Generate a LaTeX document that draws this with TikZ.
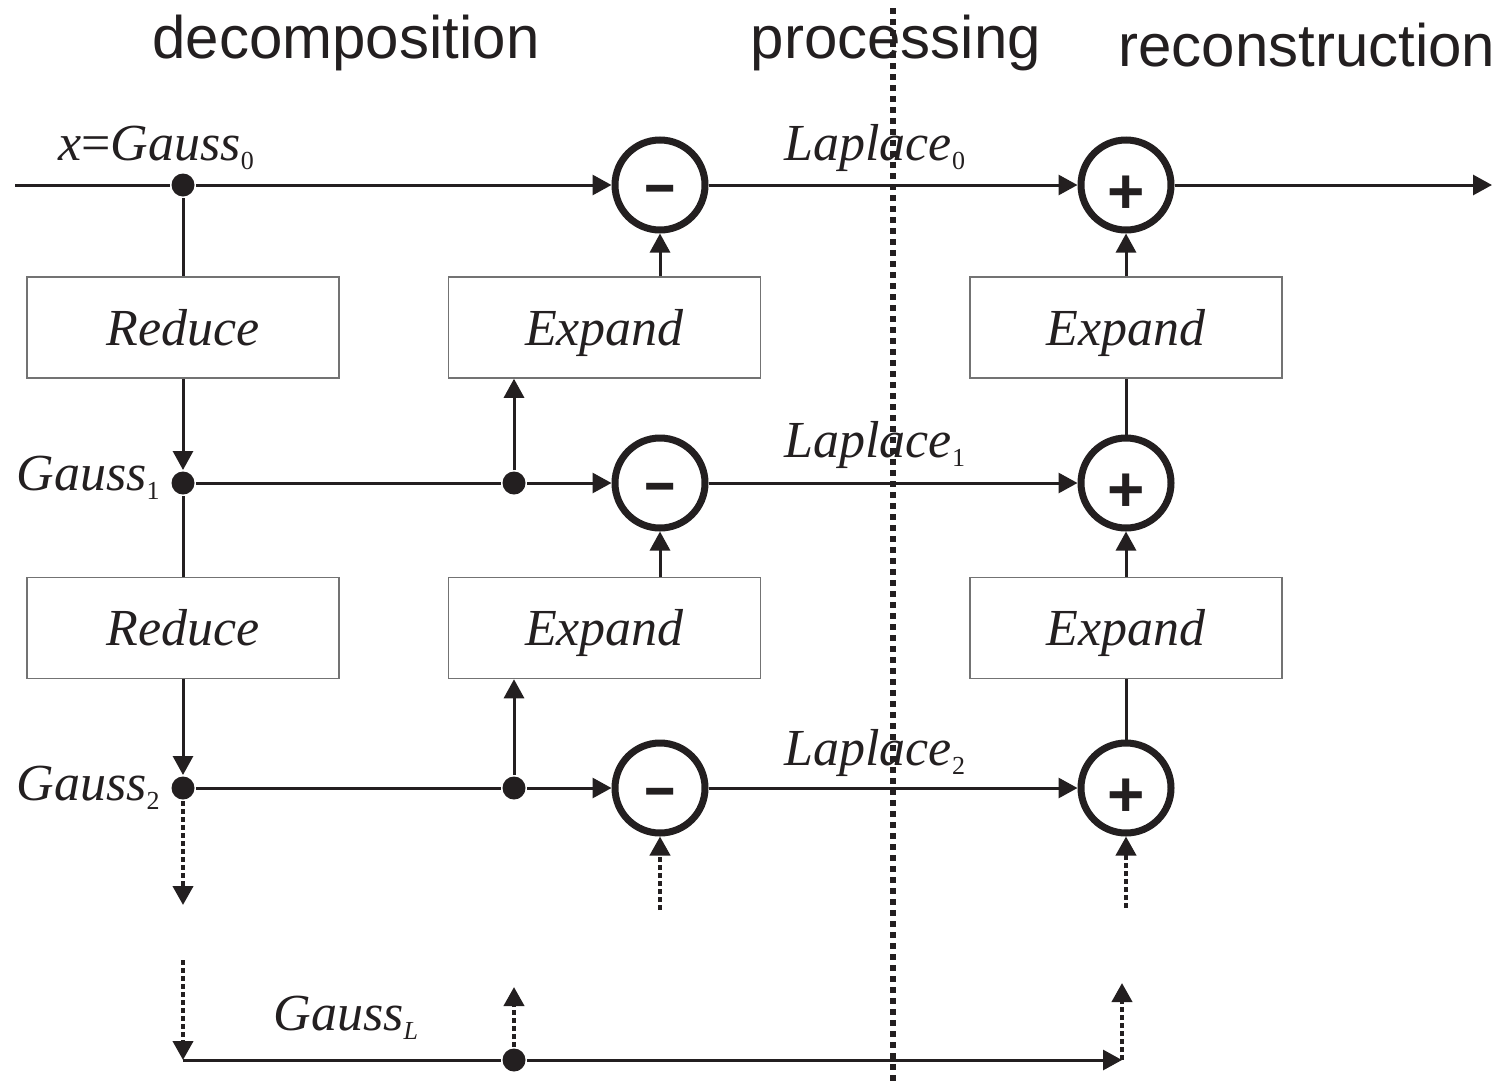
\documentclass[tikz,border=0pt]{standalone}
\usepackage{fontspec}
\setmainfont{Liberation Serif}
\setsansfont{Liberation Sans}
\usetikzlibrary{arrows.meta}

\definecolor{ink}{HTML}{231F20}
\newcommand\subidx[1]{\raisebox{-4.5pt}{\fontsize{13}{13}\selectfont\upshape #1}}
\newcommand\opsign[2]{\raisebox{#1}[0pt][0pt]{#2}}

\tikzset{
  flow/.style={-{Triangle[length=9.5pt,width=10pt]}},
  dotflow/.style={line width=2pt, dash pattern=on 2.5pt off 1.5pt, -{Triangle[length=9.5pt,width=10pt]}},
  sepline/.style={line width=3pt, dash pattern=on 3pt off 2.5pt},
  block/.style={draw=black!55, line width=0.75pt, minimum width=156pt, minimum height=50.5pt,
    text height=22pt, text depth=4.5pt, font=\fontsize{26}{30}\selectfont\itshape},
  sumnode/.style={circle, draw, line width=3.5pt, minimum size=45pt, inner sep=0pt,
    font=\fontsize{32}{32}\selectfont\sffamily\bfseries},
  diffnode/.style={sumnode, font=\fontsize{38}{38}\selectfont\sffamily\bfseries},
  junct/.style={circle, fill, minimum size=11.5pt, inner sep=0pt},
  lbl/.style={anchor=base west, inner sep=0pt, font=\fontsize{26}{30}\selectfont\itshape},
  stage/.style={inner sep=0pt, font=\fontsize{30}{36}\selectfont\sffamily}
}

\begin{document}
\begin{tikzpicture}[x=0.5pt, y=-0.5pt, line width=1.5pt, color=ink]
\useasboundingbox (0,0) rectangle (1493,1087);

\node[stage, anchor=base] (tdec) at (346,58) {decomposition};
\node[stage, anchor=base] (tproc) at (896,58) {processing};
\node[stage, anchor=base west] (trec) at (1117,66) {reconstruction};

\node[junct] (g0) at (183,185) {};
\node[junct] (g1) at (183,483) {};
\node[junct] (g2) at (183,788) {};
\node[junct] (s1) at (514,483) {};
\node[junct] (s2) at (514,788) {};
\node[junct] (sL) at (514,1060) {};

\node[diffnode] (m0) at (660,185) {\opsign{-9pt}{\scalebox{1.4}[0.75]{-}}};
\node[diffnode] (m1) at (660,483) {\opsign{-9pt}{\scalebox{1.4}[0.75]{-}}};
\node[diffnode] (m2) at (660,788) {\opsign{-9pt}{\scalebox{1.4}[0.75]{-}}};
\node[sumnode] (p0) at (1126,185) {\opsign{-14pt}{+}};
\node[sumnode] (p1) at (1126,483) {\opsign{-14pt}{+}};
\node[sumnode] (p2) at (1126,788) {\opsign{-14pt}{+}};

\node[block] (red0) at (183,327.5) {Reduce};
\node[block] (red1) at (183,628) {Reduce};
\node[block] (exp0) at (604.5,327.5) {Expand};
\node[block] (exp1) at (604.5,628) {Expand};
\node[block] (rec0) at (1126,327.5) {Expand};
\node[block] (rec1) at (1126,628) {Expand};

\node[lbl] (lx) at (57,160) {x{\upshape=}Gauss\subidx{0}};
\node[lbl] (lg1) at (15,490) {Gauss\subidx{1}};
\node[lbl] (lg2) at (15,800) {Gauss\subidx{2}};
\node[lbl] (lgL) at (272,1030) {Gauss\subidx{\itshape L}};
\node[lbl] (ll0) at (783,160) {Laplace\subidx{0}};
\node[lbl] (ll1) at (783,457) {Laplace\subidx{1}};
\node[lbl] (ll2) at (783,765) {Laplace\subidx{2}};

\coordinate (xin) at (15,185);
\coordinate (xout) at (1492,185);
\coordinate (g2dn) at (183,905);
\coordinate (m2up) at (660,910);
\coordinate (p2up) at (1126,908);
\coordinate (gLin) at (183,960);
\coordinate (gL) at (183,1060);
\coordinate (sLup) at (514,987);
\coordinate (rL) at (1122,1060);
\coordinate (rLup) at (1122,983);

\draw (xin) -- (g0);
\draw[flow] (g0) -- (m0);
\draw[flow] (m0) -- (p0);
\draw[flow] (p0) -- (xout);

\draw (g0) -- (red0);
\draw[flow] (red0) -- (g1);
\draw (g1) -- (red1);
\draw[flow] (red1) -- (g2);

\draw (g1) -- (s1);
\draw[flow] (s1) -- (m1);
\draw[flow] (s1) -- (s1 |- exp0.south);
\draw[flow] (m0 |- exp0.north) -- (m0);
\draw (g2) -- (s2);
\draw[flow] (s2) -- (m2);
\draw[flow] (s2) -- (s2 |- exp1.south);
\draw[flow] (m1 |- exp1.north) -- (m1);

\draw[flow] (m1) -- (p1);
\draw[flow] (m2) -- (p2);
\draw (p1) -- (rec0);
\draw[flow] (rec0) -- (p0);
\draw (p2) -- (rec1);
\draw[flow] (rec1) -- (p1);

\draw[dotflow] (g2) -- (g2dn);
\draw[dotflow] (m2up) -- (m2);
\draw[dotflow] (p2up) -- (p2);
\draw[dotflow] (gLin) -- (gL);
\draw (gL) -- (sL);
\draw[flow] (sL) -- (rL);
\draw[dotflow] (sL) -- (sLup);
\draw[dotflow] (rL) -- (rLup);

\draw[sepline] (893,8) -- (893,1083);
\end{tikzpicture}
\end{document}
